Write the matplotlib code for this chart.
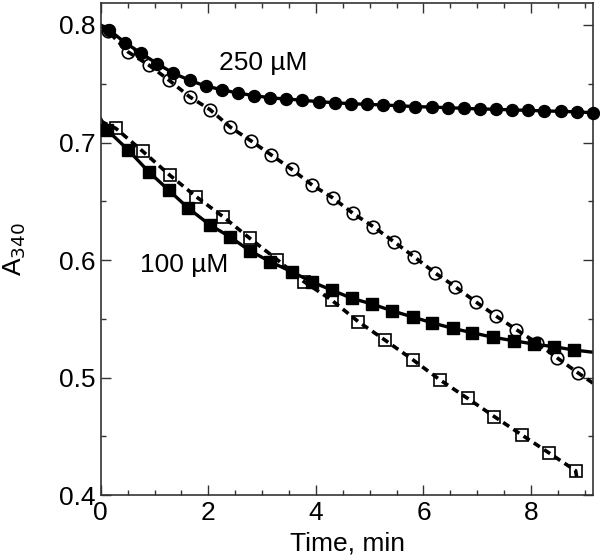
import matplotlib
matplotlib.use("Agg")
import matplotlib.pyplot as plt
from matplotlib.ticker import MultipleLocator

plt.rcParams['font.family'] = ['Liberation Sans', 'DejaVu Sans']

# ---- data ----
# 250 uM, filled circles (solid fit)
t_fc = [0.15, 0.45, 0.75, 1.05, 1.35, 1.65, 1.95, 2.25, 2.55, 2.85, 3.15, 3.45,
        3.75, 4.05, 4.35, 4.65, 4.95, 5.25, 5.55, 5.85, 6.15, 6.45, 6.75, 7.05,
        7.35, 7.65, 7.95, 8.25, 8.55, 8.85, 9.15]
a_fc = [0.796, 0.785, 0.776, 0.767, 0.759, 0.753, 0.748, 0.745, 0.742, 0.740, 0.738, 0.737,
        0.736, 0.7347, 0.7339, 0.7330, 0.7325, 0.7319, 0.7313, 0.7305, 0.7302, 0.7296, 0.7291, 0.7285,
        0.7283, 0.7277, 0.7274, 0.7268, 0.7266, 0.7260, 0.7254]
# 250 uM, open circles (dashed fit)
t_oc = [0.13, 0.51, 0.89, 1.27, 1.65, 2.03, 2.41, 2.79, 3.17, 3.55, 3.93, 4.31,
        4.69, 5.07, 5.45, 5.83, 6.21, 6.59, 6.97, 7.35, 7.73, 8.11, 8.49, 8.87]
a_oc = [0.795, 0.777, 0.766, 0.753, 0.739, 0.728, 0.713, 0.7015, 0.6894, 0.6772, 0.6638, 0.653,
        0.6397, 0.6283, 0.6156, 0.6026, 0.5892, 0.5773, 0.5645, 0.5523, 0.5407, 0.5294, 0.5166, 0.5041]
# 100 uM, filled squares (solid fit)
t_fs = [0.11, 0.51, 0.89, 1.26, 1.63, 2.03, 2.40, 2.77, 3.15, 3.55, 3.92, 4.29,
        4.67, 5.04, 5.41, 5.80, 6.16, 6.54, 6.91, 7.30, 7.68, 8.05, 8.43, 8.80]
a_fs = [0.711, 0.6936, 0.6751, 0.6596, 0.644, 0.6298, 0.6198, 0.6079, 0.5986, 0.590, 0.5815, 0.5745,
        0.5674, 0.5626, 0.5569, 0.5515, 0.5466, 0.5419, 0.5381, 0.5342, 0.5313, 0.5285, 0.5262, 0.5234]
# 100 uM, open squares (dashed fit)
t_os = [0.28, 0.78, 1.28, 1.77, 2.27, 2.77, 3.28, 3.78, 4.29, 4.79, 5.28, 5.80,
        6.31, 6.82, 7.32, 7.83, 8.33, 8.83]
a_os = [0.712, 0.6925, 0.6723, 0.654, 0.637, 0.6185, 0.6003, 0.5815, 0.566, 0.5475, 0.532, 0.5152,
        0.4979, 0.4823, 0.4667, 0.4511, 0.436, 0.4207]

# fitted-curve end points
fit_fc_start, fit_fc_end = (0.0, 0.800), (9.16, 0.7253)
fit_oc_start, fit_oc_end = (0.0, 0.799), (9.16, 0.495)
fit_fs_start, fit_fs_end = (0.0, 0.720), (9.16, 0.5215)
fit_os_start, fit_os_end = (0.0, 0.718), (8.85, 0.415)

labels = ["250 \u00b5M", "100 \u00b5M"]
xticks = [0, 2, 4, 6, 8]
yticks = [0.4, 0.5, 0.6, 0.7, 0.8]


def fit_line(t, a, start, end):
    return [start[0]] + list(t) + [end[0]], [start[1]] + list(a) + [end[1]]


fig = plt.figure(figsize=(6.0, 5.6), dpi=100)
ax = fig.add_axes([0.168, 0.116, 0.821, 0.8786])

dash = (2.0, 1.4)
lx, ly = fit_line(t_oc, a_oc, fit_oc_start, fit_oc_end)
ax.plot(lx, ly, color='black', lw=2.6, ls=(0, dash), zorder=2)
lx, ly = fit_line(t_os, a_os, fit_os_start, fit_os_end)
ax.plot(lx, ly, color='black', lw=2.6, ls=(0, dash), zorder=2)
lx, ly = fit_line(t_fc, a_fc, fit_fc_start, fit_fc_end)
ax.plot(lx, ly, color='black', lw=2.4, zorder=2)
lx, ly = fit_line(t_fs, a_fs, fit_fs_start, fit_fs_end)
ax.plot(lx, ly, color='black', lw=2.4, zorder=2)

ax.plot(t_oc, a_oc, ls='none', marker='o', ms=9.0, mfc='none', mec='black', mew=1.2, zorder=3, clip_on=False)
ax.plot(t_os, a_os, ls='none', marker='s', ms=8.5, mfc='none', mec='black', mew=1.2, zorder=3, clip_on=False)
ax.plot(t_fc, a_fc, ls='none', marker='o', ms=8.6, mfc='black', mec='black', zorder=4, clip_on=False)
ax.plot(t_fs, a_fs, ls='none', marker='s', ms=8.5, mfc='black', mec='black', zorder=4, clip_on=False)

ax.text(2.2, 0.768, labels[0], fontsize=19, ha='left', va='center')
ax.text(0.73, 0.5955, labels[1], fontsize=19, ha='left', va='center')

ax.set_xlim(0, 9.16)
ax.set_ylim(0.4, 0.8187)
ax.set_xticks(xticks)
ax.set_xticklabels([str(v) for v in xticks])
ax.set_yticks(yticks)
ax.set_yticklabels([f"{v:.1f}" for v in yticks])
ax.xaxis.set_minor_locator(MultipleLocator(0.5))
ax.yaxis.set_minor_locator(MultipleLocator(0.05))
ax.tick_params(which='both', direction='in', top=True, right=True, labelsize=19, color='#333333', width=1.0)
ax.tick_params(which='major', length=7, pad=4)
ax.tick_params(which='minor', length=3.5)
for s in ax.spines.values():
    s.set_linewidth(1.2)
    s.set_color('#333333')

ax.set_xlabel("Time, min", fontsize=19)
ax.xaxis.set_label_coords(0.5, -0.075)
ax.set_ylabel("A$_{340}$", fontsize=19)
ax.yaxis.set_label_coords(-0.148, 0.5)

fig.savefig("out.png", dpi=100)
